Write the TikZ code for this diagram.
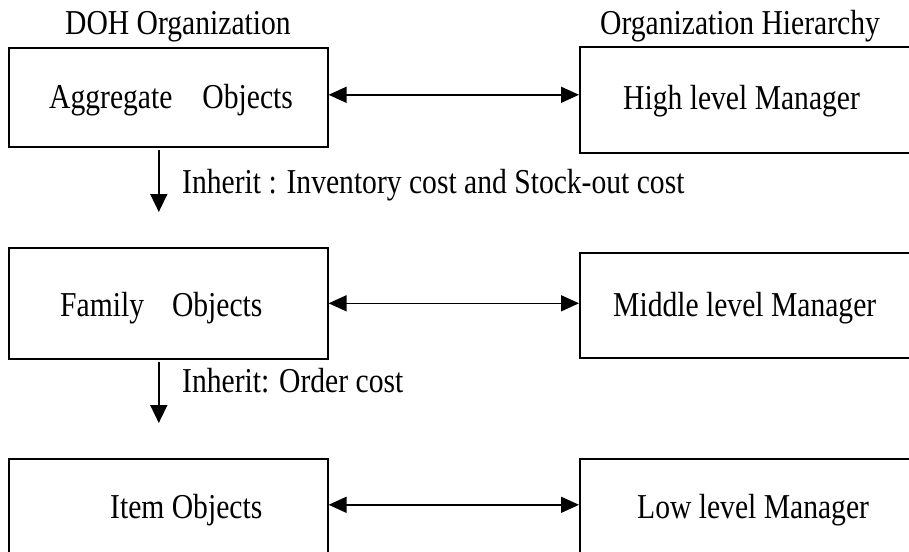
\documentclass[tikz,border=0pt]{standalone}
\usepackage{fontspec}
\setmainfont{Liberation Serif}
\usetikzlibrary{arrows.meta}
\newcommand{\tall}[1]{\scalebox{1}[1.18]{#1}}
\begin{document}
\begin{tikzpicture}[x=1pt,y=-1pt,
  box/.style={draw, line width=1.6pt, rectangle, inner sep=0pt, anchor=north west},
  lbl/.style={anchor=base west, inner sep=0pt, font=\fontsize{29.6}{34}\selectfont},
  biarrow/.style={line width=1.6pt, {Triangle[length=18pt,width=16pt]}-{Triangle[length=18pt,width=16pt]}},
  downarrow/.style={line width=1.6pt, -{Triangle[length=18pt,width=17pt]}}]
\clip (0,0) rectangle (909,551);
% left column boxes
\node[box, minimum width=319pt, minimum height=99pt] (agg) at (8,47) {};
\node[box, minimum width=319pt, minimum height=111pt] (fam) at (8,247) {};
\node[box, minimum width=319pt, minimum height=110pt] (item) at (8,458) {};
% right column boxes
\node[box, minimum width=333pt, minimum height=106pt] (high) at (579,46) {};
\node[box, minimum width=333pt, minimum height=105pt] (mid) at (579,252) {};
\node[box, minimum width=333pt, minimum height=110pt] (low) at (579,458) {};
% labels
\node[lbl] (hdrL) at (65,35) {\tall{DOH Organization}};
\node[lbl] (hdrR) at (600,35) {\tall{Organization Hierarchy}};
\node[lbl] (tagg) at (49,108) {\tall{Aggregate\hspace{30pt}Objects}};
\node[lbl] (thigh) at (623,109) {\tall{High level Manager}};
\node[lbl] (inh1) at (182,193) {\tall{Inherit : Inventory cost and Stock-out cost}};
\node[lbl] (tfam) at (60,316) {\tall{Family\hspace{28pt}Objects}};
\node[lbl] (tmid) at (613,316) {\tall{Middle level Manager}};
\node[lbl] (inh2) at (182,392) {\tall{Inherit: Order cost}};
\node[lbl] (titem) at (110,518) {\tall{Item Objects}};
\node[lbl] (tlow) at (637,518) {\tall{Low level Manager}};
% horizontal double arrows
\coordinate (a1) at ([yshift=2.5pt]agg.east);
\draw[biarrow] (a1) -- (a1 -| high.west);
\coordinate (a2) at (fam.east);
\draw[biarrow] (a2) -- (a2 -| mid.west);
\coordinate (a3) at ([yshift=9pt]item.east);
\draw[biarrow] (a3) -- (a3 -| low.west);
% inheritance arrows
\draw[downarrow] ([xshift=-9.5pt,yshift=-2pt]agg.south) -- ([xshift=-9.5pt,yshift=35pt]fam.north);
\draw[downarrow] ([xshift=-9.5pt,yshift=-2pt]fam.south) -- ([xshift=-9.5pt,yshift=35pt]item.north);
\end{tikzpicture}
\end{document}
